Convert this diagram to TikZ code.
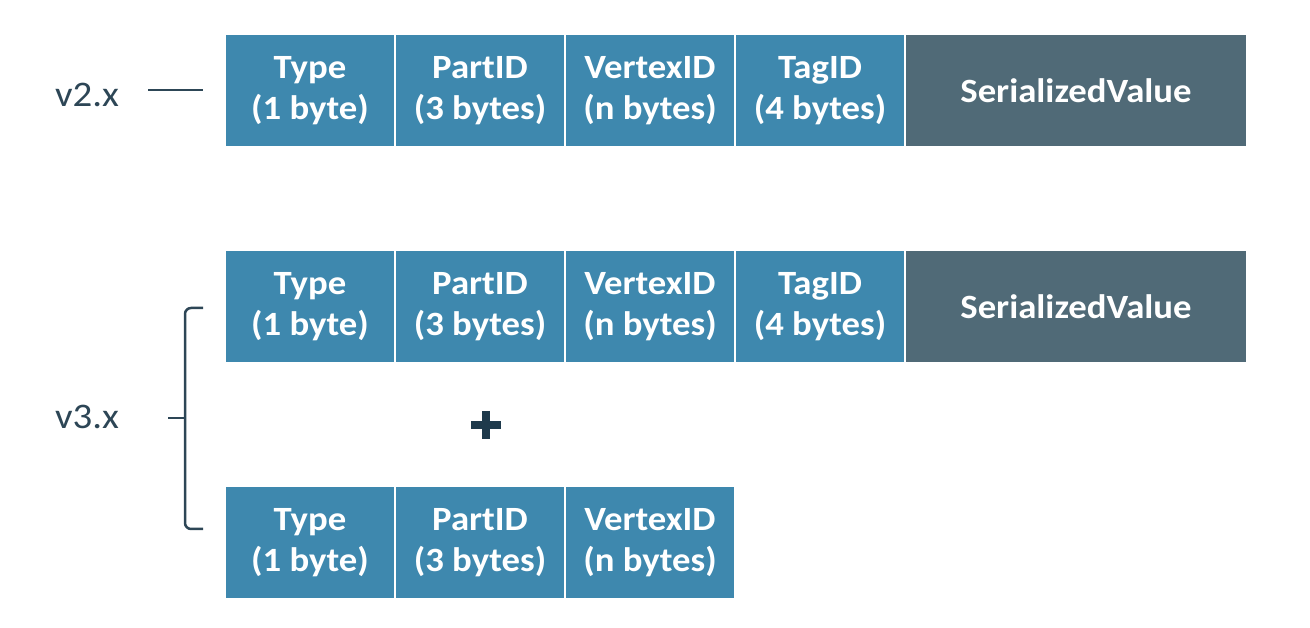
\documentclass[tikz,border=0pt]{standalone}
\usepackage{fontspec}
\setmainfont[FakeStretch=1.08]{Carlito}
\usepackage{tikz}
\usetikzlibrary{positioning}
\definecolor{cellblue}{RGB}{62,136,174}
\definecolor{cellslate}{RGB}{80,106,119}
\definecolor{inkdark}{RGB}{45,70,86}
\definecolor{plusdark}{RGB}{30,58,76}
\tikzset{
    cell/.style={fill=cellblue, text=white, font=\bfseries\fontsize{34}{41}\selectfont,
        align=center, minimum width=168pt, minimum height=111pt, inner sep=0pt, outer sep=0pt},
    valcell/.style={cell, fill=cellslate, minimum width=340pt},
    vlabel/.style={text=inkdark, font=\fontsize{36}{40}\selectfont, inner sep=0pt},
    rule/.style={draw=inkdark, line width=2pt},
}
\begin{document}
\begin{tikzpicture}[x=1pt,y=1pt,node distance=2pt]
    \useasboundingbox (0,0) rectangle (1310,628);
    % row 1 (v2.x)
    \node[cell] (a1) at (310,537.5) {Type\\(1 byte)};
    \node[cell, right=of a1] (a2) {PartID\\(3 bytes)};
    \node[cell, right=of a2] (a3) {VertexID\\(n bytes)};
    \node[cell, right=of a3] (a4) {TagID\\(4 bytes)};
    \node[valcell, right=of a4] (a5) {SerializedValue};
    % row 2 (v3.x)
    \node[cell] (b1) at (310,321.5) {Type\\(1 byte)};
    \node[cell, right=of b1] (b2) {PartID\\(3 bytes)};
    \node[cell, right=of b2] (b3) {VertexID\\(n bytes)};
    \node[cell, right=of b3] (b4) {TagID\\(4 bytes)};
    \node[valcell, right=of b4] (b5) {SerializedValue};
    % row 3 (v3.x)
    \node[cell] (c1) at (310,85.5) {Type\\(1 byte)};
    \node[cell, right=of c1] (c2) {PartID\\(3 bytes)};
    \node[cell, right=of c2] (c3) {VertexID\\(n bytes)};
    % labels
    \node[vlabel, anchor=base] (v2) at (87,521) {v2.x};
    \node[vlabel, anchor=base] (v3) at (87,199) {v3.x};
    \draw[rule] ([xshift=-78pt]a1.west) -- ([xshift=-23pt]a1.west);
    % bracket
    \coordinate (brtop) at (203,320);
    \coordinate (brbot) at (203,99);
    \coordinate (brmid) at (168,210);
    \draw[rule, line width=2.5pt, rounded corners=6pt] (brtop) -- (185,320) -- (185,99) -- (brbot);
    \draw[rule, line width=2.5pt] (brmid) -- (185,210);
    % plus
    \draw[plusdark, line width=8pt] (471,203) -- (501,203);
    \draw[plusdark, line width=8pt] (486,217) -- (486,189);
\end{tikzpicture}
\end{document}
